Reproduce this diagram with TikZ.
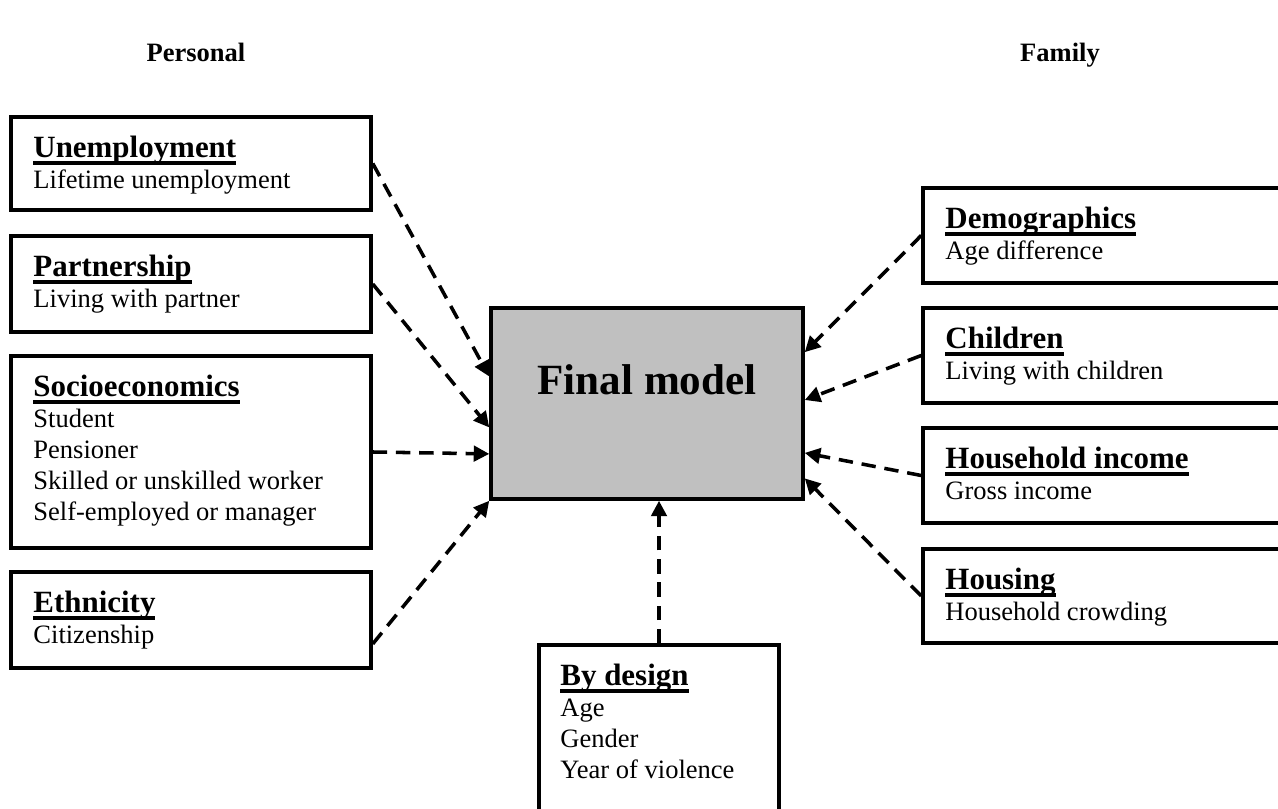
\documentclass[tikz,border=0pt]{standalone}
\usepackage{fontspec}
\setmainfont{Liberation Serif}
\usetikzlibrary{arrows.meta,calc}

% one drawing unit
\newcommand\pxu{0.4525pt}
% bold, underlined box title
\newcommand\ulbox[1]{\setbox0\hbox{#1}\rlap{\rule[-3.1pt]{\wd0}{1.7pt}}\box0}
\newcommand\ttl[1]{{\fontsize{14}{14}\selectfont\bfseries\rule{0pt}{10pt}\ulbox{#1}}}

\begin{document}
\begin{tikzpicture}[x=\pxu, y=-\pxu,
  box/.style={draw, line width=1.6pt, rectangle, inner sep=0pt},
  txt/.style={anchor=north west, inner sep=0pt, align=left,
              font=\fontsize{12}{14}\selectfont},
  hdr/.style={anchor=base, inner sep=0pt, font=\fontsize{12}{14}\selectfont\bfseries},
  conn/.style={line width=1.6pt, dash pattern=on 6.5pt off 4pt,
               -{Triangle[length=7pt,width=7pt]}}]
\useasboundingbox (0,0) rectangle (1278,809);
\clip (0,0) rectangle (1278,809);

% column headings
\node[hdr] (personal) at (196,62) {Personal};
\node[hdr] (family) at (1060,62) {Family};

% central model
\node[box, fill={rgb,255:red,192;green,192;blue,192}, minimum width=312*\pxu, minimum height=191*\pxu] (final) at (647,403.5) {};
\node[anchor=base, inner sep=0pt, font=\fontsize{19.5}{20}\selectfont\bfseries] (finalT) at (647,395) {Final model};

% personal factors
\node[box, minimum width=360*\pxu, minimum height=93*\pxu] (unemp) at (191,163.5) {};
\node[txt] (unempT) at (33,135.4) {\ttl{Unemployment}\\Lifetime unemployment};

\node[box, minimum width=360*\pxu, minimum height=96*\pxu] (partner) at (191,284) {};
\node[txt] (partnerT) at (33,254.4) {\ttl{Partnership}\\Living with partner};

\node[box, minimum width=360*\pxu, minimum height=192*\pxu] (socio) at (191,452) {};
\node[txt] (socioT) at (33,374.4) {\ttl{Socioeconomics}\\Student\\Pensioner\\Skilled or unskilled worker\\Self-employed or manager};

\node[box, minimum width=360*\pxu, minimum height=96*\pxu] (ethnic) at (191,620) {};
\node[txt] (ethnicT) at (33,590.4) {\ttl{Ethnicity}\\Citizenship};

% design variables
\node[box, minimum width=240*\pxu, minimum height=180*\pxu] (design) at (659,735) {};
\node[txt] (designT) at (560,663.4) {\ttl{By design}\\Age\\Gender\\Year of violence};

% family factors
\node[box, minimum width=370*\pxu, minimum height=95*\pxu] (demo) at (1108,235.5) {};
\node[txt] (demoT) at (945,206.4) {\ttl{Demographics}\\Age difference};

\node[box, minimum width=370*\pxu, minimum height=95*\pxu] (child) at (1108,355.5) {};
\node[txt] (childT) at (945,326.4) {\ttl{Children}\\Living with children};

\node[box, minimum width=370*\pxu, minimum height=95*\pxu] (income) at (1108,475.5) {};
\node[txt] (incomeT) at (945,446.4) {\ttl{Household income}\\Gross income};

\node[box, minimum width=370*\pxu, minimum height=94*\pxu] (housing) at (1108,596) {};
\node[txt] (housingT) at (945,567.4) {\ttl{Housing}\\Household crowding};

% connectors into the model
\draw[conn] (unemp.east) -- ($(final.north west)!0.361!(final.south west)$);
\draw[conn] (partner.east) -- ($(final.north west)!0.623!(final.south west)$);
\draw[conn] (socio.east) -- ($(final.north west)!0.759!(final.south west)$);
\draw[conn] ($(ethnic.north east)!0.74!(ethnic.south east)$) -- (final.south west);
\draw[conn] (design.north) -- (design.north |- final.south);
\draw[conn] (demo.west) -- ($(final.north east)!0.236!(final.south east)$);
\draw[conn] (child.west) -- ($(final.north east)!0.482!(final.south east)$);
\draw[conn] (income.west) -- ($(final.north east)!0.754!(final.south east)$);
\draw[conn] (housing.west) -- ($(final.north east)!0.885!(final.south east)$);
\end{tikzpicture}
\end{document}
